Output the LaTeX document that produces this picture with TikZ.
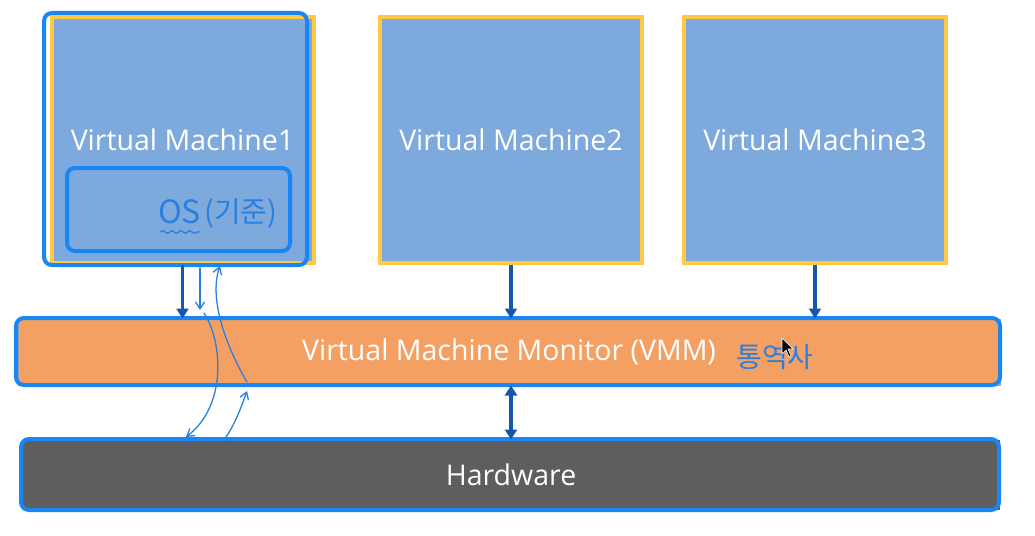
\documentclass[tikz,border=0pt]{standalone}
\usepackage{fontspec}
\setmainfont{Open Sans}
\newfontfamily\krfont{Noto Sans CJK KR}
\usetikzlibrary{arrows.meta,decorations.pathmorphing}
\definecolor{vmfill}{HTML}{7EA9DC}
\definecolor{vmedge}{HTML}{FFC845}
\definecolor{vmmfill}{HTML}{F4A062}
\definecolor{hwfill}{HTML}{5E5E5E}
\definecolor{penblue}{HTML}{1A86F5}
\definecolor{arrblue}{HTML}{1556B0}
\definecolor{inkblue}{HTML}{2A7FE0}
\begin{document}
\begin{tikzpicture}[x=1pt,y=-1pt,
  vmbox/.style={draw=vmedge, line width=4pt, fill=vmfill, minimum width=262pt,
    minimum height=246pt, inner sep=0pt, text=white, font=\fontsize{28.5}{32}\selectfont},
  barbox/.style={draw=gray!70, line width=1pt, inner sep=0pt, text=white,
    font=\fontsize{28.5}{32}\selectfont},
  hl/.style={draw=penblue, line width=4pt, rounded corners=8pt},
  arr/.style={draw=arrblue, line width=3.5pt, -{Triangle[length=10pt,width=12pt]}},
  arrboth/.style={draw=arrblue, line width=3.5pt,
    {Triangle[length=10pt,width=12pt]}-{Triangle[length=10pt,width=12pt]}},
  pen/.style={draw=inkblue, line width=1.3pt, line cap=round},
  pentip/.style={pen, -{Straight Barb[length=7pt,width=9pt]}},
  ink/.style={text=inkblue, inner sep=0pt, font=\krfont\fontsize{32}{36}\selectfont}]
\useasboundingbox (0,0) rectangle (1035,535);

% virtual machines
\node[vmbox] (vm1) at (182.5,140) {Virtual Machine1};
\node[vmbox] (vm2) at (511,140) {Virtual Machine2};
\node[vmbox] (vm3) at (815,140) {Virtual Machine3};

% monitor and hardware bars
\node[barbox, fill=vmmfill, minimum width=982pt, minimum height=66pt] (vmm) at (509,352)
  {Virtual Machine Monitor (VMM)};
\node[barbox, draw=none, fill=hwfill, minimum width=977pt, minimum height=70pt] (hw) at (511,475)
  {Hardware};

% highlight outlines
\draw[hl] (44,13) rectangle (307,265);
\draw[hl] (67,168) rectangle (290,251);
\draw[hl] (16,318) rectangle (1000,385);
\draw[hl] (21,439) rectangle (999,510);

% connectors
\draw[arr] (vm1.south) -- (vm1.south |- vmm.north);
\draw[arr] (vm2.south) -- (vm2.south |- vmm.north);
\draw[arr] (vm3.south) -- (vm3.south |- vmm.north);
\draw[arrboth] (hw.north |- vmm.south) -- (hw.north);

% hand-drawn notes
\node[ink, anchor=base west] (os) at (158,223) {OS};
\node[ink, anchor=base west, font=\krfont\fontsize{29}{33}\selectfont] (oskr) at (204,222) {(기준)};
\coordinate (ul1) at (160,232);
\coordinate (ul2) at (200,232);
\draw[pen, decorate, decoration={snake, amplitude=1.3pt, segment length=9pt}] (ul1) -- (ul2);
\node[ink, font=\krfont\fontsize{28}{32}\selectfont] (interp) at (775,357) {통역사};

% hand-drawn call path
\coordinate (p1) at (200,268);
\coordinate (p2) at (200,310);
\draw[pentip] (p1) -- (p2);
\coordinate (q1) at (204,313);
\coordinate (q2) at (186,437);
\draw[pentip] (q1) .. controls (222,340) and (228,405) .. (q2);
\coordinate (r1) at (224,440);
\coordinate (r2) at (247,391);
\draw[pentip] (r1) .. controls (235,425) and (242,405) .. (r2);
\coordinate (s1) at (247,382);
\coordinate (s2) at (220,266);
\draw[pentip] (s1) .. controls (228,350) and (208,300) .. (s2);

% mouse pointer
\draw[fill=black, draw=white, line width=0.6pt, line join=round]
  (782,338) -- (782,354) -- (786,350) -- (789,357) -- (791,356) -- (788,349) -- (793,349) -- cycle;
\end{tikzpicture}
\end{document}
